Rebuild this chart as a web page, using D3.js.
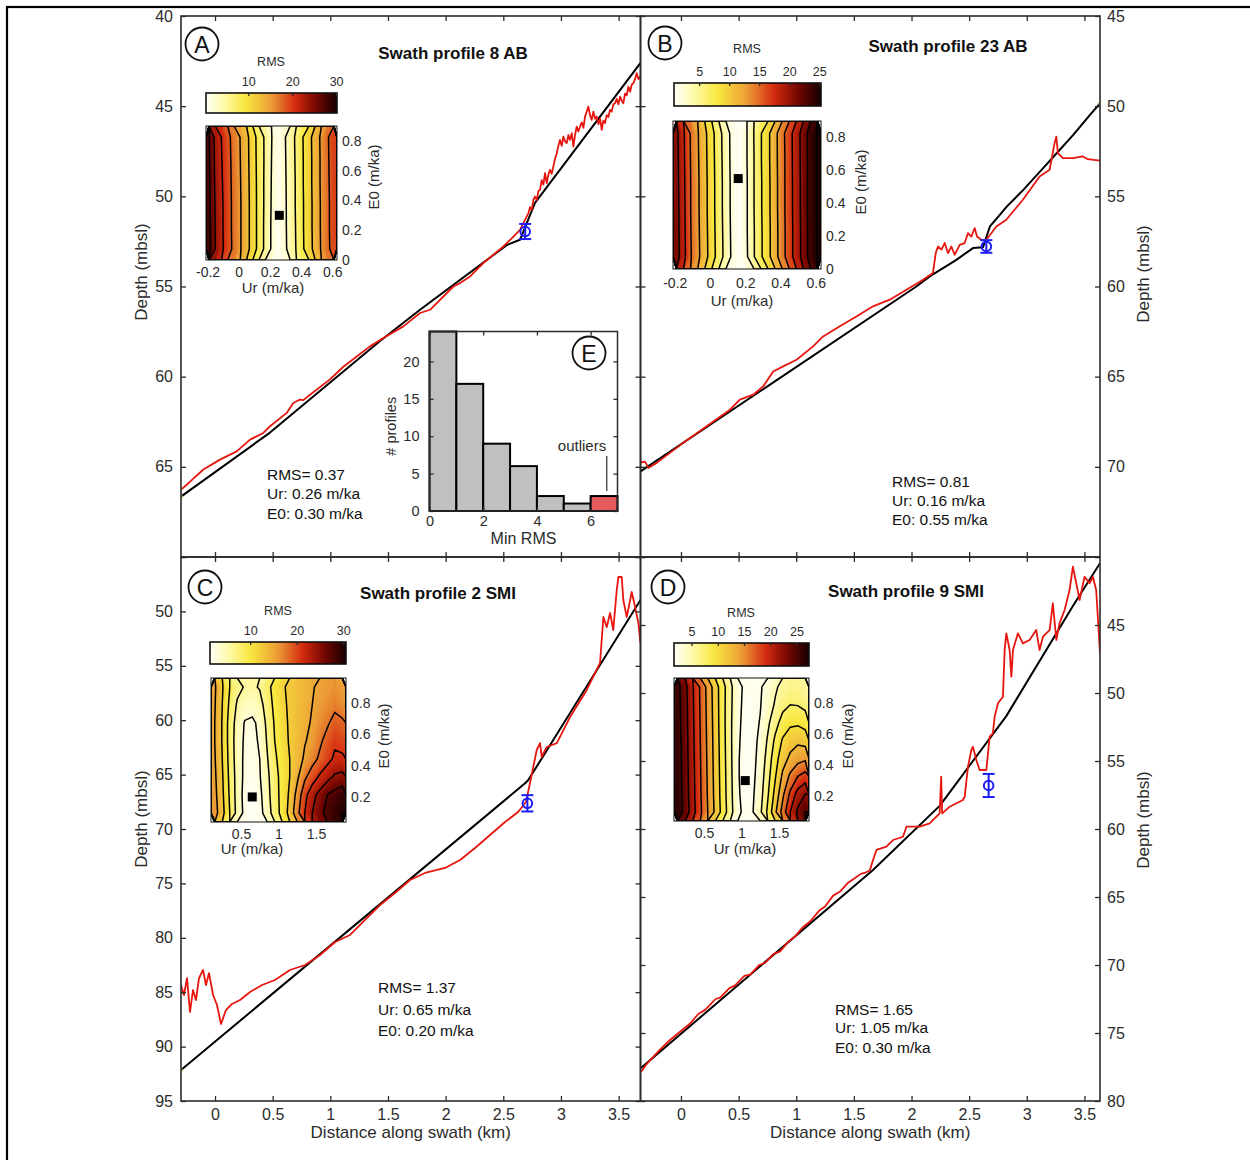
<!DOCTYPE html>
<html>
<head>
<meta charset="utf-8">
<title>Swath profiles</title>
<script src="https://cdn.jsdelivr.net/npm/d3@7/dist/d3.min.js"></script>
<style>
  html, body { margin: 0; padding: 0; background: #fff; }
  svg { display: block; }
</style>
</head>
<body>
<svg id="fig" width="1250" height="1160"></svg>
<script>
// ================= data =================
const distTicks = [0, 0.5, 1, 1.5, 2, 2.5, 3, 3.5];

// Profile A (swath 8 AB): observed topography (red) and best-fit model (black)
const distA = [-0.295,-0.25,-0.2,-0.101,0.043,0.188,0.304,0.419,0.477,0.622,0.679,0.737,0.766,0.824,0.997,1.113,1.229,1.344,1.46,1.633,1.778,1.865,1.923,2.067,2.125,2.212,2.327,2.501,2.588,2.645,2.674,2.718,2.732,2.747,2.761,2.775,2.79,2.805,2.819,2.833,2.848,2.862,2.877,2.891,2.905,2.92,2.934,2.949,2.964,2.978,2.992,3.007,3.021,3.036,3.05,3.065,3.079,3.094,3.108,3.122,3.137,3.151,3.166,3.18,3.195,3.209,3.224,3.238,3.252,3.267,3.281,3.296,3.31,3.325,3.34,3.354,3.368,3.382,3.397,3.411,3.426,3.44,3.455,3.469,3.484,3.498,3.513,3.527,3.541,3.556,3.57,3.585,3.6,3.614,3.628,3.643,3.657,3.672,3.69];
const depthA = [66.26,66.02,65.72,65.15,64.6,64.14,63.49,63.12,62.75,62.01,61.46,61.27,61.3,61.0,60.15,59.45,58.88,58.32,57.86,57.21,56.47,56.29,55.92,55.0,54.81,54.44,53.7,52.78,52.23,51.86,51.49,50.93,50.6,50.75,50.2,50.01,50.2,49.7,49.64,49.1,49.35,48.72,49.27,48.8,48.53,48.75,48.35,47.9,47.61,47.2,46.87,47.2,46.69,46.95,47.05,46.6,46.87,46.5,47.24,46.6,46.13,46.4,46.13,45.9,46.2,45.58,45.3,45.02,45.5,45.76,45.3,45.7,45.58,46.0,45.7,46.32,45.8,45.94,45.5,45.6,45.21,45.3,44.9,44.84,44.6,44.9,44.47,44.7,44.84,44.3,44.4,43.92,44.2,43.8,43.73,43.5,43.17,43.5,43.36];
const modelDistA = [-0.295,0.477,1.431,1.778,2.533,2.645,2.775,3.69];
const modelDepthA = [66.65,63.1,58.02,56.29,52.69,52.41,50.36,42.6];

// Profile B (swath 23 AB)
const distB = [-0.351,-0.341,-0.312,-0.283,-0.211,0.02,0.223,0.425,0.511,0.627,0.713,0.8,0.886,1.003,1.146,1.233,1.378,1.522,1.666,1.811,1.956,2.1,2.186,2.21,2.23,2.259,2.288,2.317,2.346,2.374,2.418,2.461,2.49,2.519,2.548,2.568,2.606,2.649,2.736,2.822,2.966,3.111,3.198,3.241,3.256,3.27,3.313,3.4,3.486,3.53,3.635];
const depthB = [69.69,69.75,69.71,70.06,69.78,68.67,67.75,66.83,66.27,66.0,65.54,64.71,64.43,64.06,63.32,62.77,62.21,61.66,61.1,60.73,60.18,59.63,59.25,58.15,57.78,57.96,57.59,58.15,57.78,58.24,57.69,57.59,57.04,57.23,56.76,57.23,57.41,57.41,56.67,56.3,55.19,53.9,53.53,52.05,51.69,52.61,52.88,52.88,52.79,52.94,53.02];
const modelDistB = [-0.351,2.042,2.158,2.389,2.533,2.62,2.651,2.68,2.753,2.826,2.97,3.114,3.259,3.403,3.548,3.635];
const modelDepthB = [70.25,60.0,59.44,58.52,57.87,57.82,57.23,56.67,56.12,55.57,54.64,53.63,52.61,51.59,50.48,49.85];

// Profile C (swath 2 SMI)
const distC = [-0.295,-0.269,-0.243,-0.217,-0.191,-0.165,-0.139,-0.104,-0.078,-0.052,-0.017,0.017,0.052,0.095,0.147,0.217,0.304,0.408,0.52,0.65,0.781,0.911,1.041,1.171,1.301,1.431,1.561,1.691,1.821,1.995,2.125,2.255,2.385,2.515,2.628,2.697,2.732,2.79,2.819,2.833,2.877,2.964,3.079,3.224,3.339,3.368,3.397,3.426,3.454,3.484,3.498,3.527,3.541,3.571,3.614,3.643,3.672,3.69];
const depthC = [84.34,85.26,83.7,86.82,84.8,85.72,83.7,82.96,84.34,83.24,85.26,86.18,87.92,86.64,86.08,85.72,84.98,84.34,83.88,82.96,82.5,81.58,80.39,79.74,78.36,76.99,75.88,74.69,74.04,73.58,72.85,71.75,70.55,69.36,68.44,67.52,65.77,62.74,62.1,63.38,62.46,62.1,59.71,57.22,54.74,50.51,51.43,50.15,51.71,48.03,46.84,46.84,48.95,50.51,48.22,49.6,51.07,52.9];
const modelDistC = [-0.295,2.689,2.717,3.69];
const modelDepthC = [92.15,65.8,65.5,48.95];

// Profile D (swath 9 SMI)
const distD = [-0.347,-0.3,-0.25,-0.18,-0.1,0.0,0.08,0.15,0.21,0.3,0.34,0.42,0.47,0.55,0.6,0.68,0.73,0.8,0.86,0.93,0.99,1.06,1.12,1.2,1.25,1.32,1.38,1.45,1.51,1.56,1.6,1.638,1.666,1.696,1.782,1.84,1.926,1.956,2.071,2.158,2.244,2.257,2.266,2.331,2.446,2.461,2.49,2.519,2.533,2.562,2.591,2.649,2.678,2.706,2.721,2.75,2.793,2.808,2.822,2.851,2.866,2.88,2.923,2.966,3.024,3.082,3.111,3.14,3.198,3.226,3.256,3.284,3.328,3.371,3.4,3.429,3.458,3.501,3.544,3.573,3.602,3.616,3.635];
const depthD = [77.87,77.3,76.85,76.2,75.55,74.85,74.3,73.6,73.3,72.5,72.4,71.7,71.5,70.8,70.7,70.0,69.85,69.2,69.0,68.3,67.9,67.2,66.8,66.0,65.7,64.9,64.6,63.95,63.6,63.3,63.2,63.05,62.28,61.54,61.3,60.81,60.57,59.83,59.83,59.58,58.85,56.15,58.85,58.36,57.87,57.63,55.42,54.19,53.95,54.93,55.66,55.66,53.21,52.96,51.74,50.76,50.27,46.84,45.61,46.84,48.8,46.84,45.61,46.35,46.1,45.37,46.84,45.86,45.37,43.4,46.1,44.88,43.9,42.43,40.71,41.93,43.16,41.45,41.93,41.45,42.43,44.39,47.08];
const modelDistD = [-0.347,1.666,2.244,2.822,3.4,3.635];
const modelDepthD = [77.57,63.01,58.3,51.7,43.6,40.46];

// Knickpoint position (km, m) and its depth uncertainty (m), panels A-D
const knickDist  = [2.69, 2.649, 2.709, 2.669];
const knickDepth = [51.95, 57.78, 67.64, 56.8];
const knickErr   = [0.42, 0.35, 0.75, 0.85];

// Best-fit parameters, panels A-D
const profileNames = ["Swath profile 8 AB", "Swath profile 23 AB", "Swath profile 2 SMI", "Swath profile 9 SMI"];
const panelLetters = ["A", "B", "C", "D"];
const fitRms = [0.37, 0.81, 1.37, 1.65];
const fitUr  = [0.26, 0.16, 0.65, 1.05];
const fitE0  = [0.30, 0.55, 0.20, 0.30];
const rmsMax = [30.2, 25.3, 30.6, 27.4];

// RMS misfit grids (rows from top E0 to bottom E0, columns increasing Ur)
const rmsGridA = [
  [27.1,23.1,20.9,18.8,16.8,14.9,12.8,10.3,7.7,5.5,3.1,1.2,2.5,4.6,6.6,8.9,11.1,13.3,15.6,17.7,19.8],
  [27.3,23.3,21.1,19.0,16.9,15.0,12.9,10.4,7.8,5.5,3.0,1.1,2.4,4.5,6.5,8.8,11.0,13.2,15.5,17.6,19.7],
  [27.5,23.5,21.3,19.1,17.0,15.1,13.0,10.5,7.9,5.4,2.9,1.0,2.3,4.4,6.4,8.8,11.0,13.2,15.5,17.5,19.6],
  [27.7,23.7,21.5,19.2,17.1,15.2,13.1,10.6,7.9,5.4,2.8,0.8,2.2,4.4,6.4,8.7,10.9,13.1,15.4,17.4,19.5],
  [27.8,23.8,21.5,19.2,17.1,15.2,13.1,10.6,7.9,5.3,2.7,0.6,2.2,4.3,6.3,8.7,10.9,13.1,15.4,17.4,19.5],
  [27.9,23.9,21.6,19.3,17.2,15.2,13.1,10.6,7.9,5.3,2.7,0.8,2.1,4.2,6.2,8.6,10.8,13.0,15.3,17.3,19.4]
];
const rmsGridB = [
  [20.6,17.8,14.8,12.7,10.6,8.3,5.9,3.7,1.5,1.0,2.5,5.1,7.4,9.5,11.8,14.2,16.6,18.8,21.1,23.6,25.2],
  [20.7,17.9,14.9,12.8,10.7,8.4,6.0,3.8,1.5,0.95,2.5,5.0,7.4,9.5,11.8,14.1,16.5,18.8,21.0,23.6,25.2],
  [20.8,18.0,15.0,12.9,10.8,8.5,6.1,3.9,1.6,0.85,2.4,5.0,7.3,9.4,11.7,14.1,16.5,18.7,21.0,23.6,25.2],
  [20.9,18.1,15.0,12.9,10.8,8.5,6.1,3.9,1.6,0.9,2.4,5.0,7.3,9.4,11.7,14.1,16.5,18.7,21.0,23.6,25.2],
  [21.0,18.2,15.1,13.0,10.9,8.6,6.2,4.0,1.7,0.95,2.4,4.9,7.2,9.3,11.6,14.0,16.4,18.6,20.9,23.5,25.1],
  [21.1,18.3,15.2,13.1,11.0,8.7,6.3,4.1,1.8,1.0,2.3,4.9,7.2,9.3,11.6,14.0,16.4,18.6,20.9,23.5,25.1]
];
const rmsGridC = [
  [15.4,12.3,9.0,6.8,5.8,5.6,6.2,8.0,10.2,11.6,12.6,13.4,14.0,14.8,15.5,16.0,16.5,15.8],
  [15.2,12.0,8.4,5.6,4.2,4.0,5.0,7.3,9.8,11.3,12.5,13.3,14.2,15.0,16.0,16.6,17.3,16.6],
  [15.0,11.8,7.8,4.8,2.8,2.5,3.6,6.8,9.3,11.0,12.4,13.3,14.3,15.3,16.6,17.6,19.0,18.5],
  [15.0,11.8,7.8,4.5,2.6,2.3,3.3,6.3,9.0,10.8,12.3,13.5,14.8,15.8,17.5,19.0,20.5,20.0],
  [15.2,12.0,8.0,4.6,2.4,2.1,3.0,5.8,8.5,10.3,12.0,13.5,15.5,17.0,18.5,20.0,21.5,21.5],
  [15.5,12.3,8.3,4.8,2.3,1.9,2.8,5.3,8.0,10.0,12.0,14.5,17.5,19.5,21.5,23.0,24.5,25.0],
  [15.8,12.6,8.6,4.8,2.0,1.37,2.3,5.0,7.8,10.0,12.5,16.0,20.0,23.0,25.0,27.0,28.0,29.0],
  [16.2,13.0,9.0,5.0,2.2,1.4,2.0,4.5,7.5,10.0,13.0,17.0,21.0,24.0,26.0,28.0,29.0,30.0]
];
const rmsGridD = [
  [25.8,23.2,20.2,17.2,14.2,11.2,8.4,5.7,3.1,2.1,2.0,2.3,3.2,4.6,5.8,6.3,6.2,5.6],
  [25.9,23.3,20.3,17.3,14.3,11.3,8.4,5.6,3.0,2.0,2.0,2.4,3.6,5.3,6.8,7.5,7.4,6.8],
  [26.0,23.4,20.4,17.4,14.4,11.4,8.4,5.5,2.9,1.9,1.95,2.6,4.5,6.6,8.5,9.5,9.6,9.0],
  [26.1,23.5,20.5,17.5,14.5,11.5,8.5,5.5,2.8,1.8,1.95,2.9,5.3,8.0,10.3,11.5,12.0,11.5],
  [26.2,23.6,20.6,17.6,14.6,11.6,8.6,5.6,2.7,1.7,1.95,3.2,6.0,9.0,11.5,13.0,14.0,14.5],
  [26.3,23.7,20.7,17.7,14.7,11.7,8.7,5.7,2.7,1.65,2.0,3.6,6.6,9.8,13.0,15.5,17.5,18.5],
  [26.4,23.8,20.8,17.8,14.8,11.8,8.8,5.8,2.8,1.75,2.2,4.0,7.2,10.8,14.5,18.0,21.0,22.5],
  [26.5,24.0,21.0,18.0,15.0,12.0,9.0,6.0,3.0,1.9,2.4,4.5,8.0,12.0,16.0,20.0,23.0,25.0]
];
const contourLevelsA = [3,6,9,12,15,18,21,24,27,30];
const contourLevelsB = [2.5,5,7.5,10,12.5,15,17.5,20,22.5,25];
const contourLevelsC = [3,6,9,12,15,18,21,24,27,30];
const contourLevelsD = [2.5,5,7.5,10,12.5,15,17.5,20,22.5,25,27.5];
const urTicksAB = [-0.2, 0, 0.2, 0.4, 0.6];
const urTicksCD = [0.5, 1, 1.5];
const e0TicksAB = [0, 0.2, 0.4, 0.6, 0.8];
const e0TicksCD = [0.2, 0.4, 0.6, 0.8];
const cbTicksA = [10, 20, 30];
const cbTicksB = [5, 10, 15, 20, 25];
const cbTicksC = [10, 20, 30];
const cbTicksD = [5, 10, 15, 20, 25];

// Histogram E: minimum RMS of all profiles
const histEdges  = [0, 1, 2, 3, 4, 5, 6, 7];
const histCounts = [24, 17, 9, 6, 2, 1, 2];
const outlierBin = 6;

// ================= drawing =================
const FONT = "'Liberation Sans', Arial, Helvetica, sans-serif";
const INK = "#2b2b2b";
const svg = d3.select("#fig");
const defs = svg.append("defs");

// reversed "hot" colour map
const cmap = d3.scaleLinear()
  .domain([0, 0.12, 0.3, 0.5, 0.68, 0.85, 1])
  .range(["#fffff6", "#fffbb4", "#f8e83e", "#ec9c36", "#d42a10", "#700600", "#140000"])
  .interpolate(d3.interpolateRgb).clamp(true);

// outer frame
svg.append("rect").attr("x", 7).attr("y", 7).attr("width", 1400).attr("height", 1400)
  .attr("fill", "none").attr("stroke", "#000").attr("stroke-width", 2.2);

function addAxis(gen, tx, ty, fs) {
  const g = svg.append("g").attr("transform", `translate(${tx},${ty})`).call(gen);
  g.attr("font-size", fs).attr("font-family", FONT).attr("color", INK);
  g.select(".domain").remove();
  g.selectAll(".tick line").attr("stroke-width", 1.3);
  return g;
}

function addText(str, x, y, opts = {}) {
  const t = svg.append("text").attr("x", x).attr("y", y).text(str)
    .attr("font-family", FONT).attr("font-size", opts.size || 15)
    .attr("fill", opts.fill || INK)
    .attr("text-anchor", opts.anchor || "start");
  if (opts.weight) t.attr("font-weight", opts.weight);
  if (opts.rotate) t.attr("transform", `rotate(${opts.rotate},${x},${y})`);
  if (opts.baseline) t.attr("dominant-baseline", opts.baseline);
  return t;
}

function circledLetter(letter, cx, cy) {
  svg.append("circle").attr("cx", cx).attr("cy", cy).attr("r", 16.5)
    .attr("fill", "#fff").attr("stroke", "#111").attr("stroke-width", 1.8);
  addText(letter, cx, cy + 1, { size: 23, anchor: "middle", baseline: "central", fill: "#111" });
}

const panels = [
  { key: "A", i: 0, left: 181, right: 640.5, top: 16, bottom: 557, xDomain: [-0.295, 3.69], yDomain: [40, 70],
    yTicks: d3.range(40, 71, 5), yLabels: [40, 45, 50, 55, 60, 65], ySide: "left", xLabels: false,
    profX: distA, profZ: depthA, modelX: modelDistA, modelZ: modelDepthA, green: "start",
    letterPos: [202, 44], titlePos: [453, 59], statsPos: [267, [480, 499, 519]], yTitle: [141, 272] },
  { key: "B", i: 1, left: 640.5, right: 1100, top: 16, bottom: 557, xDomain: [-0.351, 3.635], yDomain: [45, 75],
    yTicks: d3.range(45, 76, 5), yLabels: [45, 50, 55, 60, 65, 70], ySide: "right", xLabels: false,
    profX: distB, profZ: depthB, modelX: modelDistB, modelZ: modelDepthB, green: "end",
    letterPos: [665, 43], titlePos: [948, 52], statsPos: [892, [486.5, 505.5, 525]], yTitle: [1143, 274] },
  { key: "C", i: 2, left: 181, right: 640.5, top: 557, bottom: 1101, xDomain: [-0.295, 3.69], yDomain: [45, 95],
    yTicks: d3.range(45, 96, 5), yLabels: [50, 55, 60, 65, 70, 75, 80, 85, 90, 95], ySide: "left", xLabels: true,
    profX: distC, profZ: depthC, modelX: modelDistC, modelZ: modelDepthC, green: "start",
    letterPos: [205, 587], titlePos: [438, 599], statsPos: [378, [992.5, 1014.5, 1035.5]], yTitle: [141, 819] },
  { key: "D", i: 3, left: 640.5, right: 1100, top: 557, bottom: 1101, xDomain: [-0.351, 3.635], yDomain: [40, 80],
    yTicks: d3.range(40, 81, 5), yLabels: [45, 50, 55, 60, 65, 70, 75, 80], ySide: "right", xLabels: true,
    profX: distD, profZ: depthD, modelX: modelDistD, modelZ: modelDepthD, green: null,
    letterPos: [668, 587], titlePos: [906, 597], statsPos: [835, [1014.5, 1032.5, 1052.5]], yTitle: [1143, 820] }
];

function drawPanel(p) {
  const x = d3.scaleLinear().domain(p.xDomain).range([p.left, p.right]);
  const y = d3.scaleLinear().domain(p.yDomain).range([p.top, p.bottom]);
  const clipId = "clip-" + p.key;
  defs.append("clipPath").attr("id", clipId).append("rect")
    .attr("x", p.left).attr("y", p.top).attr("width", p.right - p.left).attr("height", p.bottom - p.top);

  const plot = svg.append("g").attr("clip-path", `url(#${clipId})`);
  const line = d3.line().x(d => x(d[0])).y(d => y(d[1]));
  plot.append("path").datum(d3.zip(p.modelX, p.modelZ)).attr("d", line)
    .attr("fill", "none").attr("stroke", "#000").attr("stroke-width", 2).attr("stroke-linejoin", "round");
  plot.append("path").datum(d3.zip(p.profX, p.profZ)).attr("d", line)
    .attr("fill", "none").attr("stroke", "#e6160f").attr("stroke-width", 1.8).attr("stroke-linejoin", "round");
  if (p.green) {
    const k = p.green === "start" ? 0 : p.modelX.length - 1;
    plot.append("circle").attr("cx", x(p.modelX[k])).attr("cy", y(p.modelZ[k])).attr("r", 1.8).attr("fill", "#7bd23c");
  }

  // knickpoint with depth error bar
  const kx = x(knickDist[p.i]), ky = y(knickDepth[p.i]);
  const ky0 = y(knickDepth[p.i] - knickErr[p.i]), ky1 = y(knickDepth[p.i] + knickErr[p.i]);
  const mk = svg.append("g").attr("stroke", "#1d1df5").attr("stroke-width", 2).attr("fill", "none");
  mk.append("line").attr("x1", kx).attr("x2", kx).attr("y1", ky0).attr("y2", ky1);
  mk.append("line").attr("x1", kx - 6).attr("x2", kx + 6).attr("y1", ky0).attr("y2", ky0);
  mk.append("line").attr("x1", kx - 6).attr("x2", kx + 6).attr("y1", ky1).attr("y2", ky1);
  mk.append("circle").attr("cx", kx).attr("cy", ky).attr("r", 4.8);

  // axes, ticks pointing inwards on all four sides
  const yFmt = side => d => (p.ySide === side && p.yLabels.includes(d)) ? String(d) : "";
  addAxis(d3.axisLeft(y).tickValues(p.yTicks).tickSizeInner(-5).tickSizeOuter(0).tickPadding(8).tickFormat(yFmt("left")), p.left, 0, 16);
  addAxis(d3.axisRight(y).tickValues(p.yTicks).tickSizeInner(-5).tickSizeOuter(0).tickPadding(7).tickFormat(yFmt("right")), p.right, 0, 16);
  addAxis(d3.axisTop(x).tickValues(distTicks).tickSizeInner(-5).tickSizeOuter(0).tickFormat(() => ""), 0, p.top, 16);
  addAxis(d3.axisBottom(x).tickValues(distTicks).tickSizeInner(-5).tickSizeOuter(0).tickPadding(8)
    .tickFormat(p.xLabels ? (d => String(d)) : (() => "")), 0, p.bottom, 16);
  svg.append("rect").attr("x", p.left).attr("y", p.top).attr("width", p.right - p.left).attr("height", p.bottom - p.top)
    .attr("fill", "none").attr("stroke", INK).attr("stroke-width", 1.6);

  addText("Depth (mbsl)", p.yTitle[0], p.yTitle[1], { size: 17, anchor: "middle", rotate: -90, baseline: "central" });
  if (p.xLabels) addText("Distance along swath (km)", (p.left + p.right) / 2, 1138, { size: 17, anchor: "middle" });

  circledLetter(panelLetters[p.i], p.letterPos[0], p.letterPos[1]);
  addText(profileNames[p.i], p.titlePos[0], p.titlePos[1], { size: 17, anchor: "middle", weight: "bold", fill: "#111" });

  const stats = [`RMS= ${fitRms[p.i].toFixed(2)}`, `Ur: ${fitUr[p.i].toFixed(2)} m/ka`, `E0: ${fitE0[p.i].toFixed(2)} m/ka`];
  stats.forEach((s, j) => addText(s, p.statsPos[0], p.statsPos[1][j], { size: 15.5, fill: "#111" }));
}

panels.forEach(drawPanel);

// ---------- misfit insets ----------
const insets = [
  { key: "A", i: 0, grid: rmsGridA, levels: contourLevelsA, urDomain: [-0.21, 0.63], e0Domain: [0, 0.9],
    urTicks: urTicksAB, e0Ticks: e0TicksAB, cbTicks: cbTicksA,
    box: { x: 206, y: 126, w: 131, h: 134 }, cbar: { x: 206, y: 93, w: 131, h: 20 },
    rmsPos: [271, 65.5], urPad: 7, urTitle: [273, 292.5], e0Title: [373, 177] },
  { key: "B", i: 1, grid: rmsGridB, levels: contourLevelsB, urDomain: [-0.21, 0.63], e0Domain: [0, 0.9],
    urTicks: urTicksAB, e0Ticks: e0TicksAB, cbTicks: cbTicksB,
    box: { x: 673, y: 121, w: 148, h: 148 }, cbar: { x: 674, y: 83, w: 147, h: 23 },
    rmsPos: [747, 53], urPad: 9, urTitle: [742, 305.5], e0Title: [860, 182] },
  { key: "C", i: 2, grid: rmsGridC, levels: contourLevelsC, urDomain: [0.1, 1.9], e0Domain: [0.04, 0.96],
    urTicks: urTicksCD, e0Ticks: e0TicksCD, cbTicks: cbTicksC,
    box: { x: 211, y: 678, w: 135, h: 144 }, cbar: { x: 210, y: 642, w: 136, h: 22 },
    rmsPos: [278, 614.5], urPad: 7, urTitle: [252, 853.5], e0Title: [383, 736] },
  { key: "D", i: 3, grid: rmsGridD, levels: contourLevelsD, urDomain: [0.1, 1.9], e0Domain: [0.04, 0.96],
    urTicks: urTicksCD, e0Ticks: e0TicksCD, cbTicks: cbTicksD,
    box: { x: 674, y: 678, w: 135, h: 143 }, cbar: { x: 674, y: 643, w: 135, h: 23 },
    rmsPos: [741, 616.5], urPad: 7, urTitle: [745, 853.5], e0Title: [847, 736] }
];

function drawInset(s) {
  const m = s.grid.length, n = s.grid[0].length;
  const values = s.grid.flat();
  const lo = fitRms[s.i], hi = rmsMax[s.i];
  const norm = v => (v - lo) / (hi - lo);
  const b = s.box;
  const ux = d3.scaleLinear().domain(s.urDomain).range([b.x, b.x + b.w]);
  const ey = d3.scaleLinear().domain(s.e0Domain).range([b.y + b.h, b.y]);
  const toPx = d3.geoTransform({
    point(gx, gy) { this.stream.point(b.x + gx / n * b.w, b.y + gy / m * b.h); }
  });
  const path = d3.geoPath(toPx);

  const clipId = "inset-clip-" + s.key;
  defs.append("clipPath").attr("id", clipId).append("rect").attr("x", b.x).attr("y", b.y).attr("width", b.w).attr("height", b.h);
  const body = svg.append("g").attr("clip-path", `url(#${clipId})`);
  body.append("rect").attr("x", b.x).attr("y", b.y).attr("width", b.w).attr("height", b.h).attr("fill", cmap(0));

  // continuous colour field as many thin bands
  const nBands = 72, step = (hi - lo) / nBands;
  const fillLevels = d3.range(nBands).map(k => lo + k * step);
  const bands = d3.contours().size([n, m]).smooth(true).thresholds(fillLevels)(values);
  body.selectAll("path.band").data(bands).join("path").attr("class", "band")
    .attr("d", path)
    .attr("fill", d => cmap(norm(d.value + step / 2)))
    .attr("stroke", d => cmap(norm(d.value + step / 2))).attr("stroke-width", 0.6);

  // iso-RMS contour lines
  const iso = d3.contours().size([n, m]).smooth(true).thresholds(s.levels)(values);
  body.selectAll("path.iso").data(iso).join("path").attr("class", "iso")
    .attr("d", path).attr("fill", "none").attr("stroke", "#000").attr("stroke-width", 1.5);

  svg.append("rect").attr("x", b.x).attr("y", b.y).attr("width", b.w).attr("height", b.h)
    .attr("fill", "none").attr("stroke", "#111").attr("stroke-width", 1);

  // best-fit parameter pair
  svg.append("rect").attr("x", ux(fitUr[s.i]) - 4.5).attr("y", ey(fitE0[s.i]) - 4.5)
    .attr("width", 9).attr("height", 9).attr("fill", "#000");

  // parameter axes
  addAxis(d3.axisBottom(ux).tickValues(s.urTicks).tickSize(0).tickPadding(s.urPad).tickFormat(d => String(d)), 0, b.y + b.h, 14);
  addAxis(d3.axisRight(ey).tickValues(s.e0Ticks).tickSize(0).tickPadding(5).tickFormat(d => String(d)), b.x + b.w, 0, 14);
  addText("Ur (m/ka)", s.urTitle[0], s.urTitle[1], { size: 15, anchor: "middle" });
  addText("E0 (m/ka)", s.e0Title[0], s.e0Title[1], { size: 15, anchor: "middle", rotate: -90, baseline: "central" });

  // colour bar
  const c = s.cbar;
  const gradId = "grad-" + s.key;
  const grad = defs.append("linearGradient").attr("id", gradId);
  d3.range(0, 1.0001, 0.04).forEach(t => grad.append("stop").attr("offset", t).attr("stop-color", cmap(t)));
  svg.append("rect").attr("x", c.x).attr("y", c.y).attr("width", c.w).attr("height", c.h)
    .attr("fill", `url(#${gradId})`).attr("stroke", "#111").attr("stroke-width", 1.6);
  const cb = d3.scaleLinear().domain([lo, hi]).range([c.x, c.x + c.w]);
  addAxis(d3.axisTop(cb).tickValues(s.cbTicks).tickSizeInner(-3).tickSizeOuter(0).tickPadding(7).tickFormat(d => String(d)), 0, c.y, 12.5);
  addText("RMS", s.rmsPos[0], s.rmsPos[1], { size: 12.5, anchor: "middle" });
}

insets.forEach(drawInset);

// ---------- histogram E ----------
(function drawHistogram() {
  const hx = d3.scaleLinear().domain([0, 7]).range([429.5, 617.5]);
  const hy = d3.scaleLinear().domain([0, 24]).range([511, 331.5]);
  svg.append("rect").attr("x", hx(0)).attr("y", hy(24)).attr("width", hx(7) - hx(0)).attr("height", hy(0) - hy(24))
    .attr("fill", "#fff");
  const bins = histCounts.map((c, k) => ({ x0: histEdges[k], x1: histEdges[k + 1], count: c, k }));
  svg.append("g").selectAll("rect").data(bins).join("rect")
    .attr("x", d => hx(d.x0)).attr("width", d => hx(d.x1) - hx(d.x0))
    .attr("y", d => hy(d.count)).attr("height", d => hy(0) - hy(d.count))
    .attr("fill", d => d.k === outlierBin ? "#e35b5b" : "#c0c0c0")
    .attr("stroke", "#000").attr("stroke-width", 2);

  addAxis(d3.axisBottom(hx).tickValues([0, 2, 4, 6]).tickSizeInner(-4).tickSizeOuter(0).tickPadding(5).tickFormat(d => String(d)), 0, hy(0), 14.5);
  addAxis(d3.axisTop(hx).tickValues([0, 2, 4, 6]).tickSizeInner(-4).tickSizeOuter(0).tickFormat(() => ""), 0, hy(24), 14.5);
  addAxis(d3.axisLeft(hy).tickValues([0, 5, 10, 15, 20]).tickSizeInner(-4).tickSizeOuter(0).tickPadding(10).tickFormat(d => String(d)), hx(0), 0, 14.5);
  addAxis(d3.axisRight(hy).tickValues([0, 5, 10, 15, 20]).tickSizeInner(-4).tickSizeOuter(0).tickFormat(() => ""), hx(7), 0, 14.5);
  svg.append("rect").attr("x", hx(0)).attr("y", hy(24)).attr("width", hx(7) - hx(0)).attr("height", hy(0) - hy(24))
    .attr("fill", "none").attr("stroke", INK).attr("stroke-width", 1.5);

  addText("# profiles", 391, (hy(0) + hy(24)) / 2 + 5, { size: 14.5, anchor: "middle", rotate: -90, baseline: "central" });
  addText("Min RMS", (hx(0) + hx(7)) / 2, 544, { size: 16, anchor: "middle" });
  const ox = hx(6.6);
  addText("outliers", 582, 451, { size: 15, anchor: "middle" });
  svg.append("line").attr("x1", ox).attr("x2", ox).attr("y1", 456).attr("y2", 491).attr("stroke", INK).attr("stroke-width", 1.2);
  circledLetter("E", 589, 353);
})();
</script>
</body>
</html>
